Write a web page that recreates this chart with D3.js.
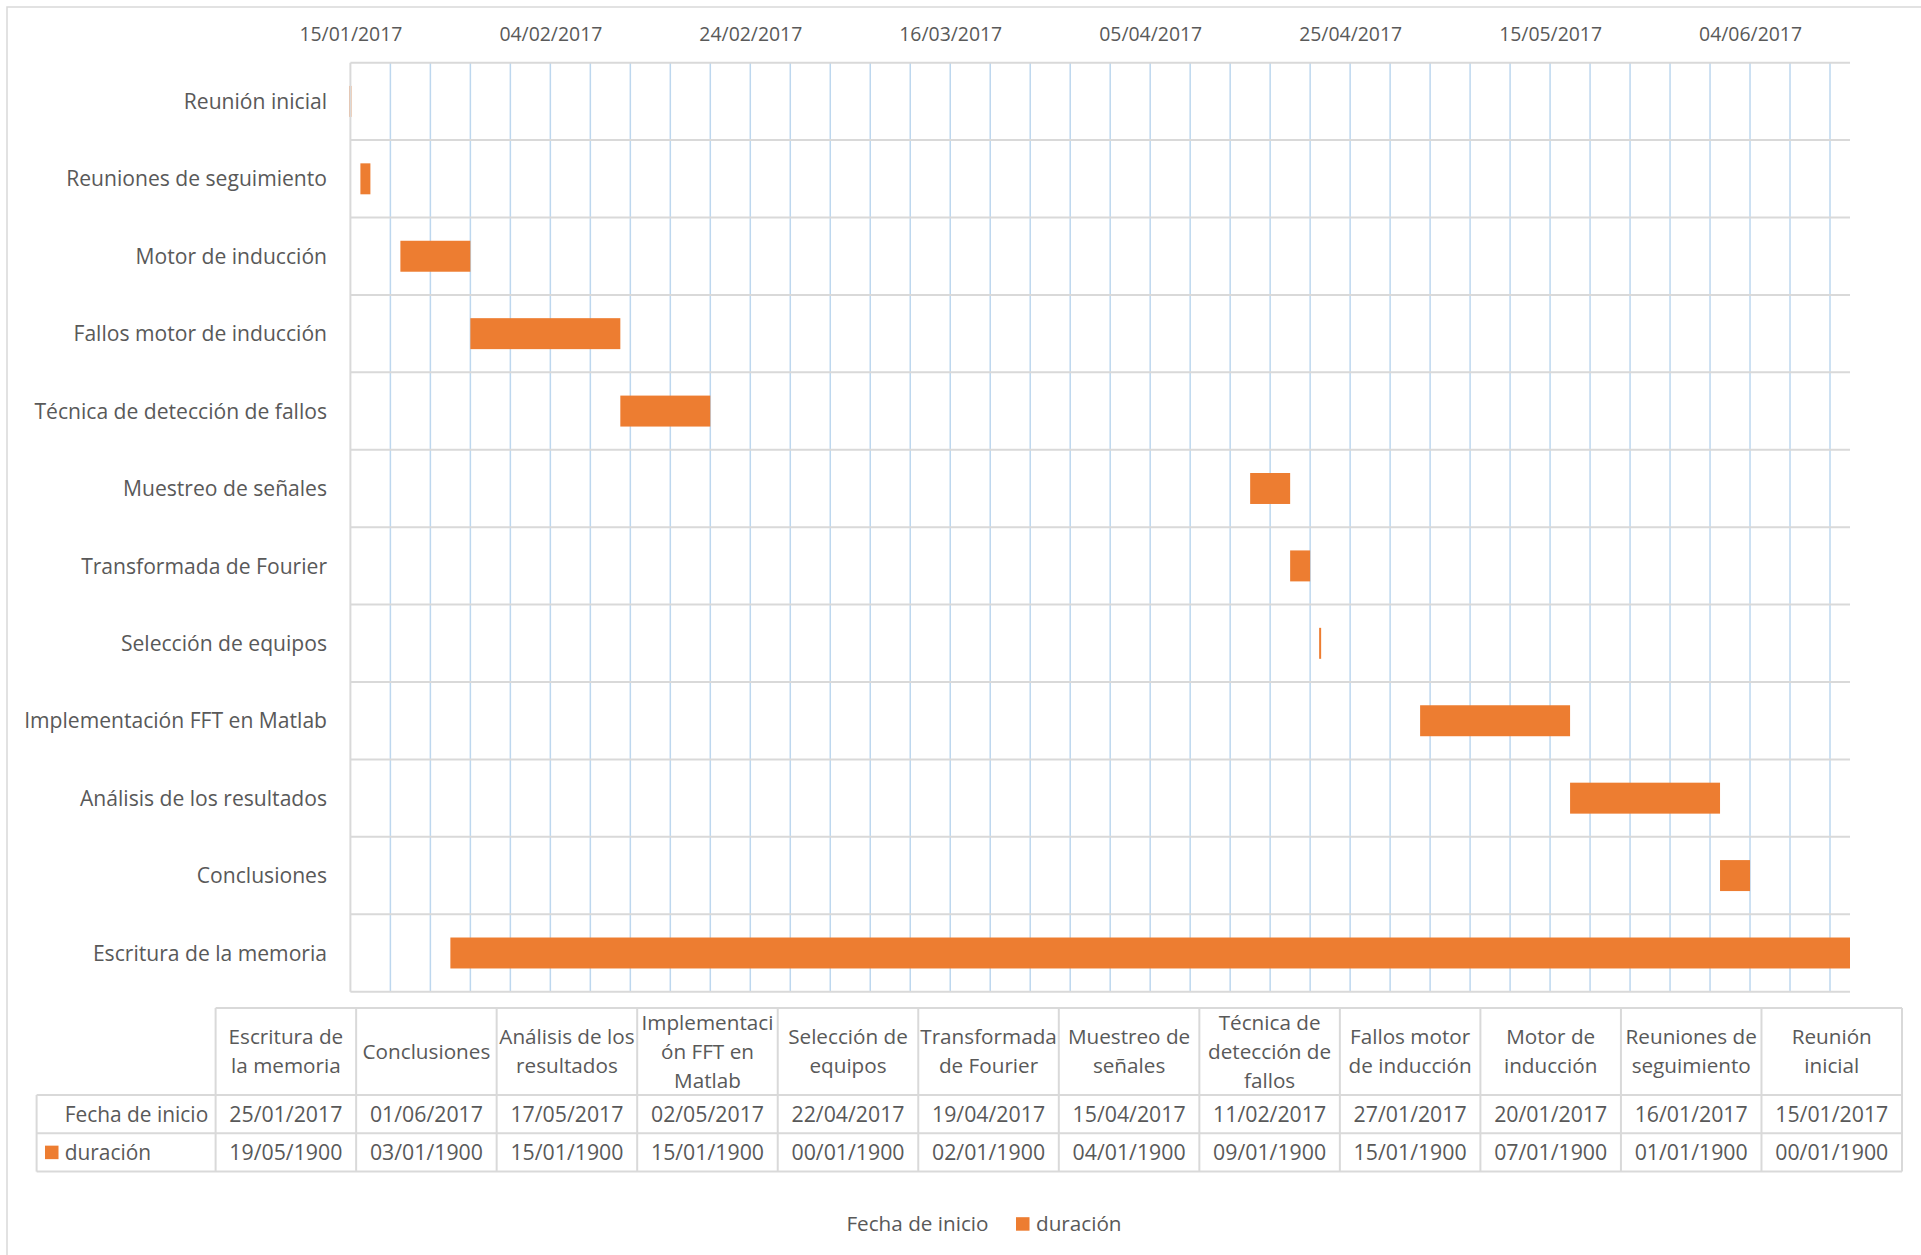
<!DOCTYPE html>
<html>
<head>
<meta charset="utf-8">
<script src="https://cdn.jsdelivr.net/npm/d3@7"></script>
<style>
  body { margin: 0; background: #fff; }
  text { font-family: "Open Sans", sans-serif; fill: #595959; }
</style>
</head>
<body>
<div id="chart"></div>
<script>
// data table order (Excel series order, last category drawn on top)
const tasks = [
  "Escritura de la memoria", "Conclusiones", "Análisis de los resultados",
  "Implementación FFT en Matlab", "Selección de equipos", "Transformada de Fourier",
  "Muestreo de señales", "Técnica de detección de fallos", "Fallos motor de inducción",
  "Motor de inducción", "Reuniones de seguimiento", "Reunión inicial"
];
const startDates = [
  "25/01/2017", "01/06/2017", "17/05/2017", "02/05/2017", "22/04/2017", "19/04/2017",
  "15/04/2017", "11/02/2017", "27/01/2017", "20/01/2017", "16/01/2017", "15/01/2017"
];
// days
const durations = [140, 3, 15, 15, 0, 2, 4, 9, 15, 7, 1, 0];
// header cells of the data table, wrapped like the original
const headerLines = [
  ["Escritura de", "la memoria"], ["Conclusiones"], ["Análisis de los", "resultados"],
  ["Implementaci", "ón FFT en", "Matlab"], ["Selección de", "equipos"], ["Transformada", "de Fourier"],
  ["Muestreo de", "señales"], ["Técnica de", "detección de", "fallos"], ["Fallos motor", "de inducción"],
  ["Motor de", "inducción"], ["Reuniones de", "seguimiento"], ["Reunión", "inicial"]
];
const seriesNames = ["Fecha de inicio", "duración"];
const axisMin = "15/01/2017";
const axisMax = "14/06/2017";
const majorUnit = 20;
const minorUnit = 4;

const W = 1921, H = 1255;
const PLOT = { LEFT: 350.4, RIGHT: 1850, TOP: 62.7, BOTTOM: 991.7 };
const TABLE = { LEFT: 36.6, COL0: 215.6, RIGHT: 1902, TOP: 1008, HEAD: 87, ROW: 38.3 };
const ORANGE = "#ED7D31";

const parse = d3.utcParse("%d/%m/%Y");
const fmt = d3.utcFormat("%d/%m/%Y");

// Excel shows the durations as 1900 date serials (with its fake 29/02/1900)
const excelSerial = n => {
  if (n === 0) return "00/01/1900";
  return fmt(new Date(Date.UTC(1900, 0, n < 60 ? n : n - 1)));
};

const rows = tasks.map((t, i) => ({
  task: t,
  start: parse(startDates[i]),
  end: d3.utcDay.offset(parse(startDates[i]), durations[i]),
  dur: durations[i],
  lines: headerLines[i]
}));

const svg = d3.select("#chart").append("svg")
  .attr("width", W)
  .attr("height", H);

// chart area border
svg.append("rect")
  .attr("x", 7).attr("y", 7)
  .attr("width", W).attr("height", H)
  .attr("fill", "none")
  .attr("stroke", "#d9d9d9")
  .attr("stroke-width", 1.5);

const t0 = parse(axisMin), t1 = parse(axisMax);
const x = d3.scaleUtc().domain([t0, t1]).range([PLOT.LEFT, PLOT.RIGHT]);
const y = d3.scaleBand()
  .domain(tasks.slice().reverse())
  .range([PLOT.TOP, PLOT.BOTTOM])
  .paddingInner(0.6)
  .paddingOuter(0.3);

const nDays = d3.utcDay.count(t0, t1);
const minorTicks = d3.range(minorUnit, nDays, minorUnit).map(d => d3.utcDay.offset(t0, d));
const majorTicks = d3.range(0, nDays + 1, majorUnit).map(d => d3.utcDay.offset(t0, d));

// minor gridlines
svg.append("g").selectAll("line")
  .data(minorTicks)
  .enter().append("line")
  .attr("x1", d => x(d)).attr("x2", d => x(d))
  .attr("y1", PLOT.TOP).attr("y2", PLOT.BOTTOM)
  .attr("stroke", "#bdd7ee")
  .attr("stroke-width", 1.5);

// category gridlines
const gap = (y.step() - y.bandwidth()) / 2;
const bounds = y.domain().map(c => y(c) - gap).concat([PLOT.BOTTOM]);
svg.append("g").selectAll("line")
  .data(bounds)
  .enter().append("line")
  .attr("x1", PLOT.LEFT).attr("x2", PLOT.RIGHT)
  .attr("y1", d => d).attr("y2", d => d)
  .attr("stroke", "#d9d9d9")
  .attr("stroke-width", 2);

// bars (the start series is invisible, only the duration is drawn)
svg.append("g").selectAll("rect")
  .data(rows)
  .enter().append("rect")
  .attr("x", d => d.dur === 0 ? x(d.start) - 1 : x(d.start))
  .attr("width", d => Math.max(x(d.end) - x(d.start), 2))
  .attr("y", d => y(d.task))
  .attr("height", y.bandwidth())
  .attr("fill", ORANGE);

// category axis line
svg.append("line")
  .attr("x1", PLOT.LEFT).attr("x2", PLOT.LEFT)
  .attr("y1", PLOT.TOP).attr("y2", PLOT.BOTTOM)
  .attr("stroke", "#d9d9d9")
  .attr("stroke-width", 2);

// date axis on top
const xAxis = svg.append("g")
  .attr("transform", `translate(0, 41.3)`)
  .call(d3.axisTop(x).tickValues(majorTicks).tickFormat(fmt).tickSize(0).tickPadding(0));
xAxis.select(".domain").remove();
xAxis.selectAll("text")
  .attr("font-family", null)
  .style("font-size", "19.4px")
  .style("fill", "#595959");
xAxis.attr("font-family", null).attr("font-size", null);

// category labels
const yAxis = svg.append("g")
  .attr("transform", `translate(${PLOT.LEFT}, 0)`)
  .call(d3.axisLeft(y).tickSize(0).tickPadding(23.4));
yAxis.select(".domain").remove();
yAxis.attr("font-family", null).attr("font-size", null);
yAxis.selectAll("text")
  .attr("dy", "0.36em")
  .style("font-size", "21.1px")
  .style("fill", "#595959");

// data table
const col = d3.scaleBand().domain(tasks).range([TABLE.COL0, TABLE.RIGHT]);
const r1 = TABLE.TOP + TABLE.HEAD, r2 = r1 + TABLE.ROW, r3 = r2 + TABLE.ROW;
const table = svg.append("g");
const border = { stroke: "#d9d9d9", width: 2 };

const hLines = [
  [TABLE.COL0, TABLE.RIGHT, TABLE.TOP],
  [TABLE.LEFT, TABLE.RIGHT, r1],
  [TABLE.LEFT, TABLE.RIGHT, r2],
  [TABLE.LEFT, TABLE.RIGHT, r3]
];
table.selectAll(".hl")
  .data(hLines)
  .enter().append("line")
  .attr("class", "hl")
  .attr("x1", d => d[0]).attr("x2", d => d[1])
  .attr("y1", d => d[2]).attr("y2", d => d[2])
  .attr("stroke", border.stroke).attr("stroke-width", border.width);

const colEdges = tasks.map(t => col(t)).concat([TABLE.RIGHT]);
table.selectAll(".vl")
  .data(colEdges)
  .enter().append("line")
  .attr("class", "vl")
  .attr("x1", d => d).attr("x2", d => d)
  .attr("y1", TABLE.TOP).attr("y2", r3)
  .attr("stroke", border.stroke).attr("stroke-width", border.width);
table.append("line")
  .attr("x1", TABLE.LEFT).attr("x2", TABLE.LEFT)
  .attr("y1", r1).attr("y2", r3)
  .attr("stroke", border.stroke).attr("stroke-width", border.width);

const cells = table.selectAll(".cell")
  .data(rows)
  .enter().append("g")
  .attr("class", "cell")
  .attr("transform", d => `translate(${col(d.task) + col.bandwidth() / 2}, 0)`);

const lineH = 29;
cells.selectAll(".head")
  .data(d => d.lines.map((l, j) => ({ l, j, n: d.lines.length })))
  .enter().append("text")
  .attr("class", "head")
  .attr("text-anchor", "middle")
  .attr("y", d => TABLE.TOP + TABLE.HEAD / 2 + (d.j - (d.n - 1) / 2) * lineH)
  .attr("dy", "0.36em")
  .style("font-size", "20.7px")
  .text(d => d.l);

cells.append("text")
  .attr("text-anchor", "middle")
  .attr("y", (r1 + r2) / 2)
  .attr("dy", "0.36em")
  .style("font-size", "21.3px")
  .text(d => fmt(d.start));

cells.append("text")
  .attr("text-anchor", "middle")
  .attr("y", (r2 + r3) / 2)
  .attr("dy", "0.36em")
  .style("font-size", "21.3px")
  .text(d => excelSerial(d.dur));

// row labels with legend keys
table.append("text")
  .attr("x", 64.7).attr("y", (r1 + r2) / 2).attr("dy", "0.36em")
  .style("font-size", "20.9px")
  .text(seriesNames[0]);
table.append("rect")
  .attr("x", 45).attr("y", (r2 + r3) / 2 - 6.8)
  .attr("width", 13.5).attr("height", 13.5)
  .attr("fill", ORANGE);
table.append("text")
  .attr("x", 64.7).attr("y", (r2 + r3) / 2).attr("dy", "0.36em")
  .style("font-size", "20.9px")
  .text(seriesNames[1]);

// legend
const legY = 1224;
const legend = svg.append("g");
legend.append("text")
  .attr("x", 846.4).attr("y", legY).attr("dy", "0.36em")
  .style("font-size", "20.7px")
  .text(seriesNames[0]);
legend.append("rect")
  .attr("x", 1016).attr("y", legY - 6.8)
  .attr("width", 13.5).attr("height", 13.5)
  .attr("fill", ORANGE);
legend.append("text")
  .attr("x", 1036).attr("y", legY).attr("dy", "0.36em")
  .style("font-size", "20.7px")
  .text(seriesNames[1]);
</script>
</body>
</html>
